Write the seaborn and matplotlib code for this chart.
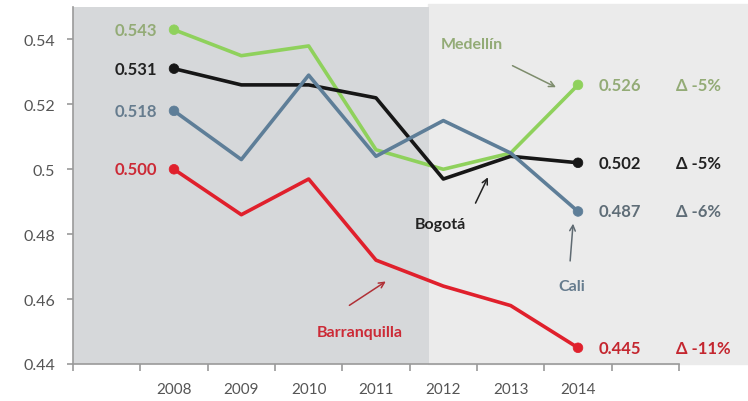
import numpy as np
import pandas as pd
import matplotlib
matplotlib.use("Agg")
import matplotlib.pyplot as plt
import seaborn as sns
from matplotlib.patches import Rectangle
from matplotlib.ticker import FixedLocator, FuncFormatter

# Data
years = [2008, 2009, 2010, 2011, 2012, 2013, 2014]
cities = ["Medellín", "Bogotá", "Cali", "Barranquilla"]
medellin = [0.543, 0.535, 0.538, 0.506, 0.500, 0.505, 0.526]
bogota = [0.531, 0.526, 0.526, 0.522, 0.497, 0.504, 0.502]
cali = [0.518, 0.503, 0.529, 0.504, 0.515, 0.505, 0.487]
barranquilla = [0.500, 0.486, 0.497, 0.472, 0.464, 0.458, 0.445]
changes = ["-5%", "-5%", "-6%", "-11%"]
y_ticks = [0.44, 0.46, 0.48, 0.50, 0.52, 0.54]

line_colors = {"Medellín": "#8fd15c", "Bogotá": "#161616",
               "Cali": "#5e7e98", "Barranquilla": "#e0202c"}
text_colors = {"Medellín": "#93ab76", "Bogotá": "#222222",
               "Cali": "#667c8e", "Barranquilla": "#cc2a36"}
right_colors = {"Medellín": "#93ab76", "Bogotá": "#222222",
                "Cali": "#5f6d77", "Barranquilla": "#c4262f"}
arrow_colors = {"Medellín": "#7d8c6c", "Bogotá": "#222222",
                "Cali": "#5f6a72", "Barranquilla": "#b03036"}

series = dict(zip(cities, [medellin, bogota, cali, barranquilla]))
df = pd.DataFrame([(c, y, v) for c in cities for y, v in zip(years, series[c])],
                  columns=["city", "year", "value"])
ends = df[df["year"].isin([years[0], years[-1]])]

sns.set_style("white")
plt.rcParams["font.family"] = ["Lato", "DejaVu Sans"]

fig = plt.figure(figsize=(7.48, 4.02), dpi=100)
fig.patch.set_facecolor("white")
# light background of the right part of the slide
fig.patches.append(Rectangle((428 / 748, 1 - 365 / 402), 1 - 428 / 748, 360 / 402,
                             transform=fig.transFigure, color="#ebebeb", zorder=-10))
ax = fig.add_axes([73 / 748, 1 - 365 / 402, 606 / 748, 357 / 402])
ax.set_zorder(1)
ax.set_facecolor("none")
ax.axvspan(2006.5, 2011.78, ymax=1.005, color="#d6d8da", zorder=0, lw=0)

sns.lineplot(data=df, x="year", y="value", hue="city", palette=line_colors,
             lw=2.6, legend=False, ax=ax, sort=False, zorder=3)
sns.scatterplot(data=ends, x="year", y="value", hue="city", palette=line_colors,
                s=48, edgecolor=None, legend=False, ax=ax, zorder=4)

ax.set_xlim(2006.5, 2015.5)
ax.set_ylim(0.44, 0.55)

# end labels
for c, ch in zip(cities, changes):
    vals = series[c]
    ax.text(years[0] - 0.25, vals[0], f"{vals[0]:.3f}", ha="right", va="center",
            fontsize=12, color=text_colors[c], fontweight="bold")
    ax.text(years[-1] + 0.3, vals[-1], f"{vals[-1]:.3f}", ha="left", va="center",
            fontsize=12, color=right_colors[c], fontweight="bold", clip_on=False)
    ax.text(years[-1] + 1.45, vals[-1], f"Δ {ch}", ha="left", va="center",
            fontsize=12, color=right_colors[c], fontweight="bold", clip_on=False)

# city name callouts
notes = {
    "Medellín": ((2012.43, 0.5385), (2012.99, 0.5323), (2013.71, 0.5249)),
    "Bogotá": ((2011.95, 0.4832), (2012.46, 0.4888), (2012.68, 0.4983)),
    "Cali": ((2013.91, 0.4641), (2013.88, 0.4709), (2013.93, 0.4841)),
    "Barranquilla": ((2010.76, 0.4499), (2010.57, 0.4576), (2011.18, 0.4659)),
}
for c, (txt, tail, head) in notes.items():
    ax.text(txt[0], txt[1], c, ha="center", va="center", fontsize=11.5,
            fontweight="bold", color=text_colors[c])
    ax.annotate("", xy=head, xytext=tail,
                arrowprops=dict(arrowstyle="->", color=arrow_colors[c], lw=1.1))

# axes styling
for s in ["top", "right"]:
    ax.spines[s].set_visible(False)
for s in ["left", "bottom"]:
    ax.spines[s].set_color("#9a9a9a")
    ax.spines[s].set_linewidth(1.2)

ax.yaxis.set_major_locator(FixedLocator(y_ticks))
ax.yaxis.set_major_formatter(FuncFormatter(lambda v, p: f"{v:g}"))
ax.tick_params(axis="y", length=4, width=1.2, color="#9a9a9a", pad=9,
               labelsize=11.5, labelcolor="#555555", left=True)
ax.xaxis.set_major_locator(FixedLocator(years))
ax.xaxis.set_minor_locator(FixedLocator(np.arange(2006.5, 2016, 1)))
ax.tick_params(axis="x", which="major", length=0, pad=13, labelsize=11,
               labelcolor="#555555")
ax.tick_params(axis="x", which="minor", length=5, width=1.2, color="#9a9a9a",
               bottom=True)
ax.set_xlabel("")
ax.set_ylabel("")

fig.savefig("out.png", dpi=100)
